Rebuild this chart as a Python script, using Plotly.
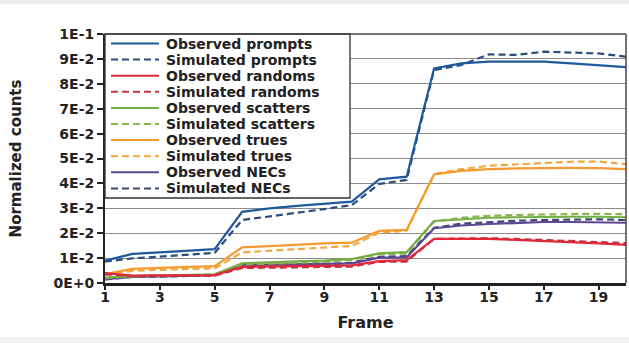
import plotly.graph_objects as go

frames = list(range(1, 21))

obs_prompts = [0.0090, 0.0117, 0.0123, 0.0129, 0.0136, 0.0286, 0.0300, 0.0310, 0.0320, 0.0327,
               0.0416, 0.0427, 0.0862, 0.0882, 0.0889, 0.0889, 0.0889, 0.0882, 0.0873, 0.0867]
sim_prompts = [0.0086, 0.0099, 0.0106, 0.0113, 0.0121, 0.0253, 0.0269, 0.0282, 0.0297, 0.0313,
               0.0398, 0.0414, 0.0855, 0.0876, 0.0918, 0.0916, 0.0929, 0.0926, 0.0922, 0.0909]
obs_randoms = [0.0040, 0.0030, 0.0031, 0.0031, 0.0032, 0.0065, 0.0066, 0.0067, 0.0068, 0.0071,
               0.0088, 0.0092, 0.0177, 0.0177, 0.0177, 0.0173, 0.0169, 0.0164, 0.0159, 0.0153]
sim_randoms = [0.0035, 0.0028, 0.0029, 0.0029, 0.0030, 0.0060, 0.0061, 0.0062, 0.0063, 0.0066,
               0.0085, 0.0086, 0.0177, 0.0179, 0.0180, 0.0177, 0.0173, 0.0168, 0.0164, 0.0160]
obs_scatters = [0.0022, 0.0028, 0.0030, 0.0033, 0.0035, 0.0079, 0.0084, 0.0087, 0.0090, 0.0096,
                0.0119, 0.0124, 0.0249, 0.0257, 0.0262, 0.0264, 0.0266, 0.0266, 0.0266, 0.0264]
sim_scatters = [0.0019, 0.0027, 0.0029, 0.0032, 0.0034, 0.0074, 0.0078, 0.0082, 0.0085, 0.0094,
                0.0116, 0.0118, 0.0247, 0.0262, 0.0270, 0.0273, 0.0276, 0.0277, 0.0278, 0.0276]
obs_trues = [0.0036, 0.0057, 0.0061, 0.0065, 0.0068, 0.0143, 0.0149, 0.0154, 0.0159, 0.0162,
             0.0209, 0.0213, 0.0436, 0.0450, 0.0457, 0.0460, 0.0462, 0.0462, 0.0461, 0.0457]
sim_trues = [0.0033, 0.0049, 0.0053, 0.0056, 0.0059, 0.0123, 0.0130, 0.0137, 0.0143, 0.0149,
             0.0202, 0.0210, 0.0438, 0.0457, 0.0471, 0.0477, 0.0483, 0.0487, 0.0488, 0.0477]
obs_necs = [0.0015, 0.0025, 0.0027, 0.0030, 0.0032, 0.0072, 0.0074, 0.0076, 0.0077, 0.0079,
            0.0102, 0.0103, 0.0220, 0.0231, 0.0237, 0.0242, 0.0245, 0.0245, 0.0245, 0.0242]
sim_necs = [0.0014, 0.0024, 0.0026, 0.0028, 0.0030, 0.0068, 0.0070, 0.0072, 0.0074, 0.0082,
            0.0105, 0.0108, 0.0222, 0.0238, 0.0245, 0.0250, 0.0253, 0.0255, 0.0256, 0.0253]

series_names = ["Observed prompts", "Simulated prompts", "Observed randoms", "Simulated randoms",
                "Observed scatters", "Simulated scatters", "Observed trues", "Simulated trues",
                "Observed NECs", "Simulated NECs"]
series_values = [obs_prompts, sim_prompts, obs_randoms, sim_randoms, obs_scatters, sim_scatters,
                 obs_trues, sim_trues, obs_necs, sim_necs]
series_colors = ["#1f5a9c", "#2a4d7e", "#e0283a", "#c4303e", "#76ae44", "#86b64e",
                 "#f59a2e", "#f2a83e", "#5e4696", "#3e4870"]
series_dash = ["solid", "7px,4px"] * 5

ytick_vals = [0.0, 0.01, 0.02, 0.03, 0.04, 0.05, 0.06, 0.07, 0.08, 0.09, 0.1]
ytick_text = ["0E+0", "1E-2", "2E-2", "3E-2", "4E-2", "5E-2", "6E-2", "7E-2", "8E-2", "9E-2", "1E-1"]
xtick_vals = [1, 3, 5, 7, 9, 11, 13, 15, 17, 19]

FONT = "DejaVu Sans"
W, H = 629, 343
ML, MR, MT, MB = 105, 3, 34, 60
PW, PH = W - ML - MR, H - MT - MB


def px(x):
    return (x - ML) / PW


def py(y):
    return (H - MB - y) / PH


fig = go.Figure()
# draw in reverse so that the first series sit on top
for name, vals, col, dash in reversed(list(zip(series_names, series_values, series_colors, series_dash))):
    fig.add_trace(go.Scatter(x=frames, y=vals, mode="lines", name=name, showlegend=False,
                             line=dict(color=col, width=2.2, dash=dash)))

shapes = []
annotations = []
# legend box
shapes.append(dict(type="rect", xref="paper", yref="paper", x0=0, x1=px(350), y0=py(198), y1=1,
                   fillcolor="white", line=dict(color="#333333", width=1.3), layer="above"))
for i, (name, col, dash) in enumerate(zip(series_names, series_colors, series_dash)):
    yc = 43.5 + 16.1 * i
    shapes.append(dict(type="line", xref="paper", yref="paper", x0=px(111), x1=px(159),
                       y0=py(yc), y1=py(yc), line=dict(color=col, width=2, dash=dash), layer="above"))
    annotations.append(dict(text=f"<b>{name}</b>", xref="paper", yref="paper", x=px(164), y=py(yc),
                            xanchor="left", yanchor="middle", showarrow=False,
                            font=dict(family=FONT, size=14, color="#222222")))

# light gray strips at top and bottom of the picture
shapes.append(dict(type="rect", xref="paper", yref="paper", x0=px(0), x1=px(W), y0=py(4), y1=py(0),
                   fillcolor="#eeeeee", line=dict(width=0), layer="below"))
shapes.append(dict(type="rect", xref="paper", yref="paper", x0=px(0), x1=px(W), y0=py(H), y1=py(337),
                   fillcolor="#f1f1f1", line=dict(width=0), layer="below"))

fig.update_layout(
    width=W, height=H,
    margin=dict(l=ML, r=MR, t=MT, b=MB, pad=0, autoexpand=False),
    paper_bgcolor="white", plot_bgcolor="white",
    showlegend=False,
    shapes=shapes,
    annotations=annotations,
    font=dict(family=FONT, color="#222222"),
)
fig.update_xaxes(
    range=[1, 20], tickmode="array", tickvals=xtick_vals, ticktext=[f"<b>{v}</b>" for v in xtick_vals],
    tickfont=dict(family=FONT, size=14, color="#222222"),
    ticks="outside", ticklen=4, tickwidth=1.5, tickcolor="#222222", ticklabelstandoff=-5,
    showline=True, linecolor="#222222", linewidth=2.5, mirror=False,
    showgrid=False, zeroline=False, automargin=False,
    title=dict(text="<b>Frame</b>", font=dict(family=FONT, size=16, color="#222222"), standoff=14),
)
fig.update_yaxes(
    range=[0, 0.1], tickmode="array", tickvals=ytick_vals, ticktext=[f"<b>{t}</b>" for t in ytick_text],
    tickfont=dict(family=FONT, size=14, color="#222222"),
    ticks="outside", ticklen=6, tickwidth=1.5, tickcolor="#222222",
    showline=True, linecolor="#222222", linewidth=2, mirror=False,
    showgrid=True, gridcolor="#8c8c8c", gridwidth=1, zeroline=False, automargin=False,
    title=dict(text="<b>Normalized counts</b>", font=dict(family=FONT, size=15, color="#222222"), standoff=28),
)
# top and right border of the plot area
fig.add_shape(type="line", xref="paper", yref="paper", x0=0, x1=1, y0=1, y1=1,
              line=dict(color="#444444", width=1.5))
fig.add_shape(type="line", xref="paper", yref="paper", x0=1, x1=1, y0=0, y1=1,
              line=dict(color="#444444", width=1.5))

fig.write_html("out.html", config={"displayModeBar": False},
               post_script="document.body.style.margin='0px';")
